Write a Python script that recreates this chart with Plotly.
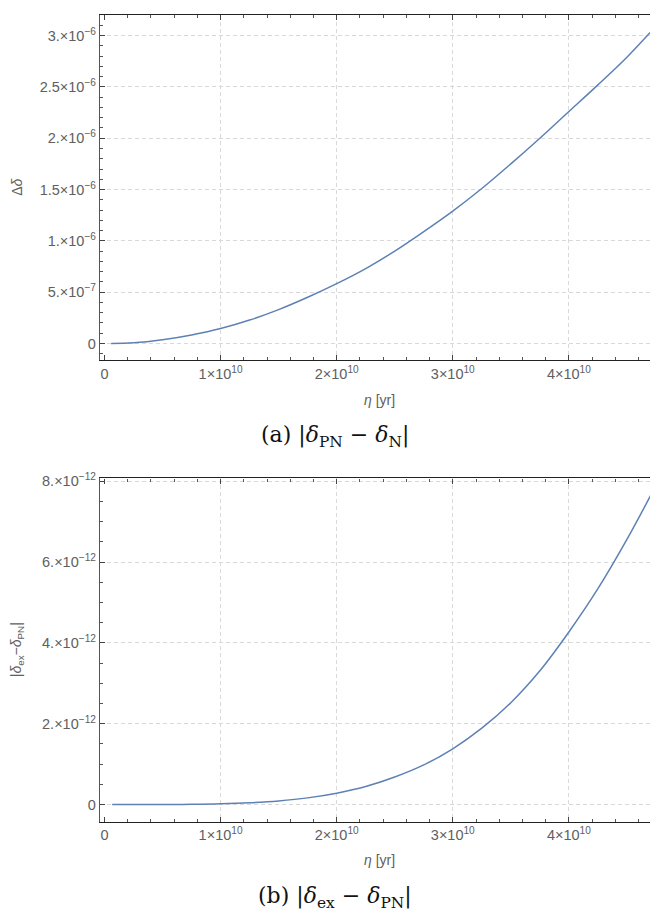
import plotly.graph_objects as go

# ---- data (eta in units of 1e10 yr) ----
eta_a = [0.057, 0.25, 0.5, 0.75, 1.0, 1.25, 1.5, 1.75, 2.0, 2.25, 2.5, 2.75, 3.0, 3.25, 3.5, 3.75, 4.0, 4.25, 4.5, 4.70]
delta_a = [0.0, 0.006, 0.036, 0.083, 0.145, 0.228, 0.33, 0.45, 0.583, 0.73, 0.90, 1.09, 1.29, 1.51, 1.75, 2.00, 2.26, 2.52, 2.79, 3.03]  # x1e-6

eta_b = [0.066, 0.5, 0.75, 1.0, 1.25, 1.5, 1.75, 2.0, 2.25, 2.5, 2.75, 3.0, 3.25, 3.5, 3.75, 4.0, 4.25, 4.5, 4.71]
delta_b = [0.0, 0.001, 0.006, 0.018, 0.044, 0.09, 0.165, 0.28, 0.445, 0.68, 0.98, 1.38, 1.89, 2.52, 3.31, 4.27, 5.34, 6.56, 7.68]  # x1e-12

x_ticks = [0, 1e10, 2e10, 3e10, 4e10]
x_ticktext = ["0", "1×10<sup>10</sup>", "2×10<sup>10</sup>", "3×10<sup>10</sup>", "4×10<sup>10</sup>"]
ya_ticks = [0, 0.5e-6, 1.0e-6, 1.5e-6, 2.0e-6, 2.5e-6, 3.0e-6]
ya_ticktext = ["0", "5.×10<sup>−7</sup>", "1.×10<sup>−6</sup>", "1.5×10<sup>−6</sup>",
               "2.×10<sup>−6</sup>", "2.5×10<sup>−6</sup>", "3.×10<sup>−6</sup>"]
yb_ticks = [0, 2e-12, 4e-12, 6e-12, 8e-12]
yb_ticktext = ["0", "2.×10<sup>−12</sup>", "4.×10<sup>−12</sup>", "6.×10<sup>−12</sup>", "8.×10<sup>−12</sup>"]

# page offset (browser body margin) compensated: figure drawn from page pixel 8
OFF = 8
W, H = 650, 906
L = 100 - OFF
LINE = "#5E81B5"
TICKFONT = dict(family="Liberation Sans, Arial, sans-serif", size=14.5, color="#606060")

def py(p):
    return (H - (p - OFF)) / H

def px(p):
    return ((p - OFF) - L) / (W - L)

fig = go.Figure()
fig.add_trace(go.Scatter(x=[e * 1e10 for e in eta_a], y=[d * 1e-6 for d in delta_a],
                         mode="lines", line=dict(color=LINE, width=1.5, shape="spline"),
                         xaxis="x", yaxis="y", showlegend=False))
fig.add_trace(go.Scatter(x=[e * 1e10 for e in eta_b], y=[d * 1e-12 for d in delta_b],
                         mode="lines", line=dict(color=LINE, width=1.5, shape="spline"),
                         xaxis="x2", yaxis="y2", showlegend=False))

GRID = dict(showgrid=True, gridcolor="#d9d9d9", griddash="4px,3px", gridwidth=1)

def xaxis(anchor):
    return dict(
        domain=[0, 1], anchor=anchor,
        range=[-0.0387e10, 4.759e10],
        tickmode="array", tickvals=x_ticks, ticktext=x_ticktext,
        ticks="inside", ticklen=5, tickcolor="#444444",
        showline=True, linecolor="#222222", linewidth=1.3, mirror="ticks",
        zeroline=True, zerolinecolor="rgba(0,0,0,0)",
        minor=dict(dtick=2e9, tick0=0, ticks="inside", ticklen=3, tickcolor="#555555", showgrid=False),
        tickfont=TICKFONT, **GRID,
    )

def yaxis(anchor, dom, rng, tv, tt, mdt):
    return dict(
        domain=dom, anchor=anchor, range=rng,
        tickmode="array", tickvals=tv, ticktext=tt,
        ticks="inside", ticklen=5, tickcolor="#444444",
        showline=True, linecolor="#555555", linewidth=1.3, mirror="ticks",
        zeroline=False,
        minor=dict(dtick=mdt, tick0=0, ticks="inside", ticklen=3, tickcolor="#555555", showgrid=False),
        tickfont=TICKFONT, **GRID,
    )

fig.update_layout(
    width=W, height=H,
    margin=dict(l=L, r=0, t=0, b=0),
    paper_bgcolor="white", plot_bgcolor="white",
    xaxis=xaxis("y"),
    yaxis=yaxis("x", [py(356), py(8)], [-0.164e-6, 3.201e-6], ya_ticks, ya_ticktext, 1e-7),
    xaxis2=xaxis("y2"),
    yaxis2=yaxis("x2", [py(821), py(475)], [-0.425e-12, 8.07e-12], yb_ticks, yb_ticktext, 5e-13),
)

ann_font = dict(family="Liberation Sans, Arial, sans-serif", size=14, color="#606060")
cap_font = dict(family="DejaVu Serif, Liberation Serif, serif", size=22, color="#111111")
annotations = [
    dict(text="<i>η</i> [yr]", x=px(380), y=py(396), xref="paper", yref="paper",
         showarrow=False, font=ann_font, xanchor="center", yanchor="middle"),
    dict(text="<i>η</i> [yr]", x=px(380), y=py(860), xref="paper", yref="paper",
         showarrow=False, font=ann_font, xanchor="center", yanchor="middle"),
    dict(text="Δ<i>δ</i>", x=px(17), y=py(182), xref="paper", yref="paper", textangle=-90,
         showarrow=False, font=ann_font, xanchor="center", yanchor="middle"),
    dict(text="|<i>δ</i><sub>ex</sub>−<i>δ</i><sub>PN</sub>|", x=px(17), y=py(648), xref="paper", yref="paper",
         textangle=-90, showarrow=False, font=ann_font, xanchor="center", yanchor="middle"),
    dict(text="(a) |<i>δ</i><sub>PN</sub> − <i>δ</i><sub>N</sub>|", x=px(335), y=py(433),
         xref="paper", yref="paper", showarrow=False, font=cap_font, xanchor="center", yanchor="middle"),
    dict(text="(b) |<i>δ</i><sub>ex</sub> − <i>δ</i><sub>PN</sub>|", x=px(335), y=py(897),
         xref="paper", yref="paper", showarrow=False, font=cap_font, xanchor="center", yanchor="middle"),
]
fig.update_layout(annotations=annotations)

fig.write_html("out.html")
